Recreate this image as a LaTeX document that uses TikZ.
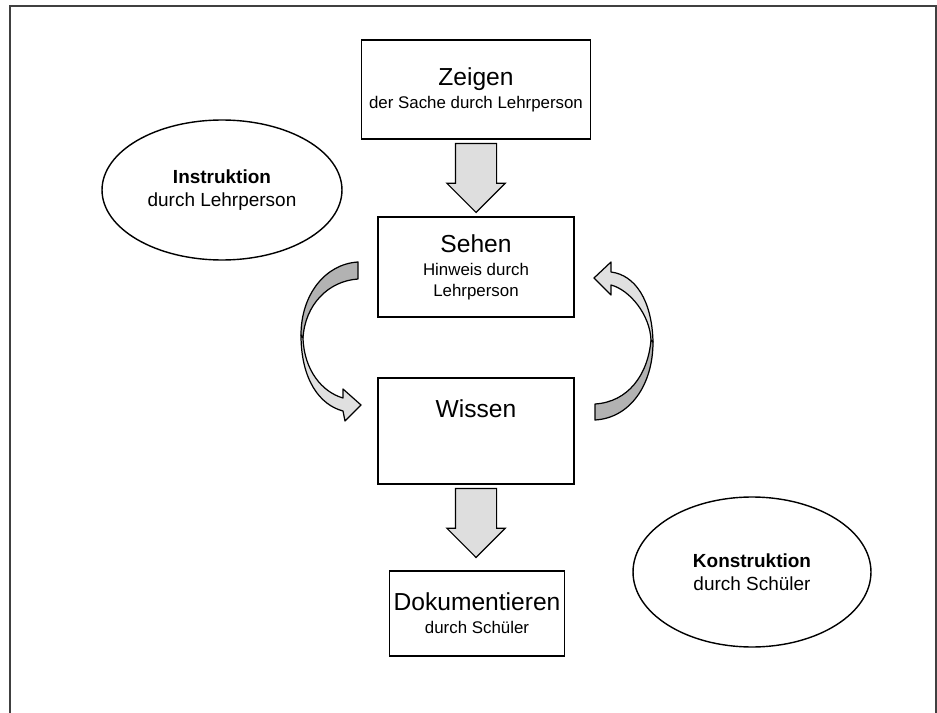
\documentclass[tikz,border=0pt]{standalone}
\usepackage{fontspec}
\setmainfont{Liberation Sans}
\usetikzlibrary{shapes.geometric,shapes.arrows,calc}
\newcommand{\gross}{\fontsize{14}{16}\selectfont}
\newcommand{\klein}{\fontsize{9.6}{11}\selectfont}

\begin{document}
\begin{tikzpicture}[x=0.02cm,y=-0.02cm,
    stufe/.style={draw,line width=0.9pt,align=center,inner sep=0pt},
    oval/.style={draw,ellipse,line width=0.8pt,align=center,inner sep=0pt,
      font=\fontsize{10.8}{13}\selectfont},
    pfeil/.style={draw,line width=0.7pt,fill=black!13,single arrow,
      shape border rotate=270,minimum height=1.38cm,minimum width=1.14cm,
      single arrow head extend=0.17cm,inner sep=0.4cm,anchor=tail},
    band/.style={draw,line width=0.7pt,line join=round},
    rahmen/.style={draw=black!75,line width=0.9pt}]

    % size of the page
    \useasboundingbox (0,0) rectangle (937,713);

    % draw frame
    \draw[rahmen] (10,713) -- (10,6) -- (936,6) -- (936,713);

    % draw steps
    \node[stufe,minimum width=4.58cm,minimum height=1.98cm] (zeigen) at (476,89.5)
      {{\gross Zeigen}\\[1pt]{\klein der Sache durch Lehrperson}};
    \node[stufe,minimum width=3.92cm,minimum height=2cm] (sehen) at (476,267)
      {{\gross Sehen}\\[1pt]{\klein Hinweis durch}\\{\klein Lehrperson}};
    \node[stufe,minimum width=3.92cm,minimum height=2.12cm,text height=10pt,
      text depth=25pt] (wissen) at (476,431) {\gross Wissen};
    \node[stufe,minimum width=3.5cm,minimum height=1.7cm] (doku) at (477,613.5)
      {{\gross Dokumentieren}\\[1pt]{\klein durch Schüler}};

    % draw ellipses
    \node[oval,minimum width=4.8cm,minimum height=2.8cm] (instr) at (222,190)
      {\textbf{Instruktion}\\durch Lehrperson};
    \node[oval,minimum width=4.76cm,minimum height=3cm] (konstr) at (752,572)
      {\textbf{Konstruktion}\\durch Schüler};

    % draw block arrows
    \node[pfeil] (pfeilA) at ($(zeigen.south)+(0,3)$) {};
    \node[pfeil] (pfeilB) at ($(wissen.south)+(0,3)$) {};

    % draw curved arrow left (Sehen to Wissen)
    \path[band,fill=black!30] (358,262) .. controls (325,264) and (301,295) .. (301,335)
      -- (303,338) .. controls (305,305) and (328,281) .. (358,279) -- cycle;
    \path[band,fill=black!12] (301,335) .. controls (301,380) and (320,405) .. (343,411)
      -- (345,421) -- (361,405) -- (343,389) -- (343,398)
      .. controls (322,392) and (304,370) .. (303,338) -- cycle;

    % draw curved arrow right (Wissen to Sehen)
    \path[band,fill=black!30] (595,420) .. controls (630,418) and (653,385) .. (653,342)
      -- (651,340) .. controls (648,375) and (628,402) .. (595,404) -- cycle;
    \path[band,fill=black!12] (653,342) .. controls (652,300) and (635,275) .. (611,272)
      -- (611,262) -- (594,278) -- (611,295) -- (611,285)
      .. controls (630,290) and (650,315) .. (651,340) -- cycle;
  \end{tikzpicture}
\end{document}
